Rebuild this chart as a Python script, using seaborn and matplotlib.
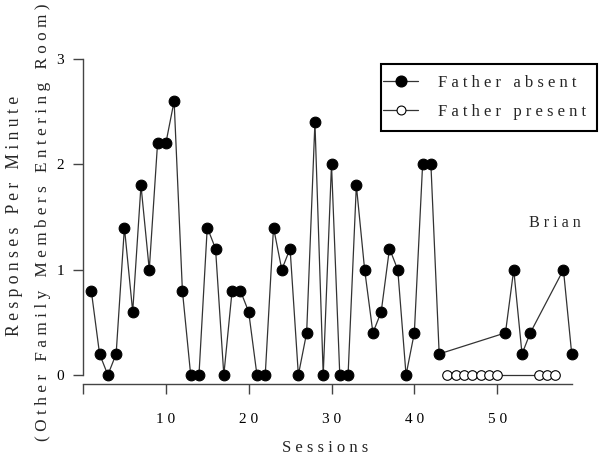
import matplotlib
matplotlib.use("Agg")
import matplotlib.pyplot as plt
import seaborn as sns
import pandas as pd
from matplotlib.lines import Line2D
from matplotlib.patches import Rectangle

# ---- data ----
absent_sessions = list(range(1, 44)) + [51, 52, 53, 54, 58, 59]
absent_rate = [0.8, 0.2, 0, 0.2, 1.4, 0.6, 1.8, 1.0, 2.2, 2.2, 2.6, 0.8, 0, 0, 1.4,
               1.2, 0, 0.8, 0.8, 0.6, 0, 0, 1.4, 1.0, 1.2, 0, 0.4, 2.4, 0, 2.0,
               0, 0, 1.8, 1.0, 0.4, 0.6, 1.2, 1.0, 0, 0.4, 2.0, 2.0, 0.2,
               0.4, 1.0, 0.2, 0.4, 1.0, 0.2]
present_sessions = [44, 45, 46, 47, 48, 49, 50, 55, 56, 57]
present_rate = [0, 0, 0, 0, 0, 0, 0, 0, 0, 0]
x_ticks = [0, 10, 20, 30, 40, 50]
x_tick_labels = ["", "1 0", "2 0", "3 0", "4 0", "5 0"]
y_ticks = [0, 1, 2, 3]
y_tick_labels = ["0", "1", "2", "3"]
label_absent = "F a t h e r   a b s e n t"
label_present = "F a t h e r   p r e s e n t"
ylabel1 = "R e s p o n s e s   P e r   M i n u t e"
ylabel2 = "( O t h e r   F a m i l y   M e m b e r s   E n t e r i n g   R o o m )"
xlabel = "S e s s i o n s"
subject = "B r i a n"

df_abs = pd.DataFrame({"session": absent_sessions, "rate": absent_rate})
df_pre = pd.DataFrame({"session": present_sessions, "rate": present_rate})

sns.set_style("ticks")
plt.rcParams["font.family"] = ["Liberation Serif", "DejaVu Serif"]

W, H = 600, 461
fig = plt.figure(figsize=(6, 4.61), dpi=100)
ax = fig.add_axes([83 / W, 1 - 384 / H, 497 / W, (384 - 59) / H])

LC = "#333333"
sns.lineplot(data=df_abs, x="session", y="rate", ax=ax, color=LC, lw=0.9,
             marker="o", markersize=7.7, markerfacecolor="black",
             markeredgecolor="black", markeredgewidth=0.8, clip_on=False)
sns.lineplot(data=df_pre, x="session", y="rate", ax=ax, color=LC, lw=0.9,
             marker="o", markersize=6.9, markerfacecolor="white",
             markeredgecolor="black", markeredgewidth=0.8, clip_on=False)

ax.set_xlim(0, 60)
ax.set_ylim(-0.0855, 3.0)
for s in ["top", "right"]:
    ax.spines[s].set_visible(False)
ax.spines["left"].set_bounds(0, 3)
ax.spines["bottom"].set_bounds(0, 59)
for s in ["left", "bottom"]:
    ax.spines[s].set_color("#444444")
    ax.spines[s].set_linewidth(1.0)

ax.set_xticks(x_ticks)
ax.set_xticklabels(x_tick_labels)
ax.set_yticks(y_ticks)
ax.set_yticklabels(y_tick_labels)
ax.tick_params(axis="y", length=7.2, width=1.0, color="#444444", pad=6.5,
               labelsize=11, labelcolor="black")
ax.tick_params(axis="x", length=7.2, width=1.0, color="#444444", pad=14,
               labelsize=11, labelcolor="black")
ax.set_xlabel("")
ax.set_ylabel("")

# axis titles
fig.text(325 / W, 1 - 448 / H, xlabel, ha="center", va="center", fontsize=12)
fig.text(15 / W, 1 - 216 / H, ylabel1, ha="center", va="center", rotation=90, fontsize=12.7)
fig.text(43 / W, 1 - 222 / H, ylabel2, ha="center", va="center", rotation=90, fontsize=12.4)

# subject name
fig.text(529 / W, 1 - 223 / H, subject, ha="left", va="center", fontsize=11.6)

# legend
fig.patches.append(Rectangle((381 / W, 1 - 131 / H), (597 - 381) / W, (131 - 64) / H,
                             transform=fig.transFigure, fill=False,
                             edgecolor="black", linewidth=1.5))
h1 = Line2D([], [], color=LC, lw=0.9, marker="o", markersize=7.7,
            markerfacecolor="black", markeredgecolor="black")
h2 = Line2D([], [], color=LC, lw=0.9, marker="o", markersize=6.4,
            markerfacecolor="white", markeredgecolor="black", markeredgewidth=0.8)
leg = fig.legend([h1, h2], [label_absent, label_present], loc="upper left",
                 bbox_to_anchor=(383 / W, 1 - 75 / H), frameon=False, fontsize=12,
                 borderpad=0, borderaxespad=0, handlelength=2.1, handletextpad=1.2,
                 labelspacing=0.78)

fig.savefig("out.png", dpi=100)
